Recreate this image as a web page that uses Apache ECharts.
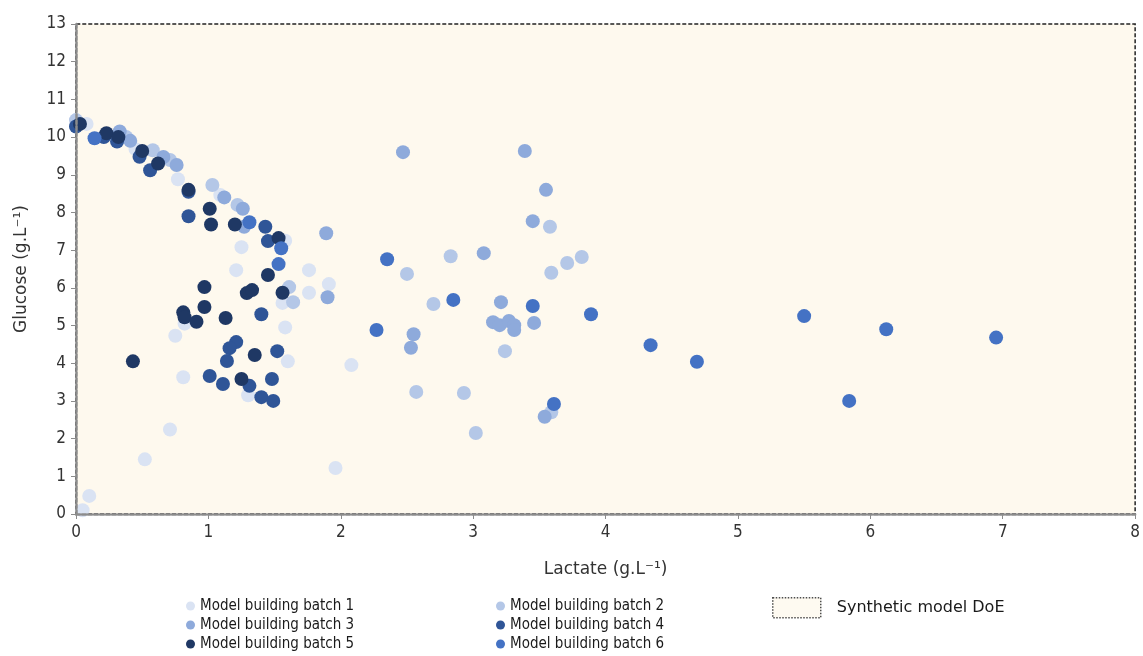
<!DOCTYPE html>
<html>
<head>
<meta charset="utf-8">
<script src="https://cdn.jsdelivr.net/npm/echarts@6/dist/echarts.min.js"></script>
<style>html,body{margin:0;padding:0;background:#fff;}#c{width:1143px;height:656px;}</style>
</head>
<body>
<div id="c"></div>
<script>
const batch1 = [[0.05,0.1],[0.1,0.48],[0.52,1.45],[0.71,2.24],[0.81,3.63],[0.75,4.73],[0.82,5.05],[1.3,3.15],[1.21,6.47],[1.25,7.08],[1.58,4.95],[1.6,4.05],[1.56,5.6],[1.76,6.47],[1.76,5.87],[1.91,6.1],[2.08,3.95],[1.96,1.22],[0.77,8.88],[0.08,10.35],[0.45,9.68],[1.09,8.46],[1.58,7.25]];
const batch2 = [[0.0,10.45],[0.38,10.0],[0.58,9.65],[0.71,9.39],[1.03,8.73],[1.22,8.2],[1.61,6.02],[1.64,5.62],[2.5,6.37],[2.83,6.84],[3.58,7.62],[3.71,6.66],[3.82,6.82],[3.59,6.4],[2.7,5.57],[3.24,4.32],[2.57,3.24],[2.93,3.21],[3.59,2.7],[3.02,2.15]];
const batch3 = [[0.33,10.15],[0.41,9.9],[0.66,9.47],[0.76,9.26],[1.12,8.4],[1.26,8.1],[1.27,7.62],[1.89,7.45],[1.9,5.75],[2.47,9.6],[3.39,9.63],[3.55,8.6],[3.45,7.77],[3.08,6.92],[3.21,5.62],[3.15,5.09],[3.2,5.01],[3.27,5.12],[3.31,5.01],[3.31,4.88],[3.46,5.07],[2.55,4.77],[2.53,4.41],[3.54,2.58]];
const batch4 = [[0.0,10.28],[0.21,10.0],[0.31,9.88],[0.48,9.48],[0.56,9.12],[0.85,8.55],[0.85,7.9],[1.43,7.62],[1.45,7.24],[1.40,5.3],[1.21,4.56],[1.16,4.4],[1.14,4.06],[1.52,4.32],[1.01,3.66],[1.11,3.45],[1.31,3.4],[1.48,3.58],[1.40,3.1],[1.49,3.0]];
const batch5 = [[0.03,10.35],[0.23,10.1],[0.32,10.0],[0.5,9.63],[0.62,9.3],[0.85,8.6],[1.01,8.1],[1.02,7.68],[1.2,7.68],[1.53,7.32],[1.45,6.34],[0.97,6.02],[1.29,5.86],[1.33,5.94],[1.56,5.87],[0.97,5.49],[0.81,5.35],[0.82,5.22],[0.91,5.1],[1.13,5.2],[0.43,4.05],[1.35,4.22],[1.25,3.58]];
const batch6 = [[0.14,9.97],[1.31,7.74],[1.55,7.05],[1.53,6.63],[2.35,6.76],[2.27,4.88],[2.85,5.68],[3.45,5.52],[3.89,5.3],[3.61,2.92],[4.34,4.48],[4.69,4.04],[5.5,5.25],[5.84,3.0],[6.12,4.9],[6.95,4.68]];
const doeLactate = [0, 8];
const doeGlucose = [0, 13];
const seriesNames = ['Model building batch 1','Model building batch 2','Model building batch 3','Model building batch 4','Model building batch 5','Model building batch 6'];
const doeName = 'Synthetic model DoE';
const xTitle = 'Lactate (g.L\u207B\u00B9)';
const yTitle = 'Glucose (g.L\u207B\u00B9)';

const colors = ['#dae3f3','#b4c7e7','#8eaadb','#2f5597','#1f3864','#4472c4'];
const allBatches = [batch1,batch2,batch3,batch4,batch5,batch6];
const FONT = 'DejaVu Sans Condensed, DejaVu Sans, sans-serif';
const FONT_W = 'DejaVu Sans, sans-serif';

const chart = echarts.init(document.getElementById('c'), null, {renderer:'canvas'});
const series = [{
  name: doeName,
  type: 'scatter',
  data: [],
  itemStyle: {color:'#fef9ee', borderColor:'#222', borderType:'dotted', borderWidth:1.5},
  markArea: {
    silent: true,
    itemStyle: {color:'#fef9ee', borderColor:'#222', borderType:[4,2], borderWidth:1.5},
    data: [[{coord:[doeLactate[0], doeGlucose[0]]},{coord:[doeLactate[1], doeGlucose[1]]}]]
  },
  z: 1
}];
allBatches.forEach((b,i)=>{
  series.push({
    name: seriesNames[i], type:'scatter', data: b, symbolSize: 14,
    itemStyle: {color: colors[i], opacity: 1}, z: 3 + i
  });
});

const legendText = {fontFamily: FONT, fontSize: 15, color:'#1a1a1a', lineHeight: 16};
chart.setOption({
  animation: false,
  grid: {left: 76, right: 6, top: 24, bottom: 142},
  xAxis: {
    type:'value', min: 0, max: 8, interval: 1, z: 10,
    name: xTitle, nameLocation:'middle', nameGap: 47,
    nameTextStyle: {fontFamily: FONT_W, fontSize: 17, color:'#333'},
    axisLine: {onZero:false, lineStyle:{color:'#8c8c8c', width:2.5, type:[4,2]}},
    axisTick: {show:true, length:5, lineStyle:{color:'#8c8c8c'}},
    axisLabel: {fontFamily: FONT, fontSize: 17, color:'#333', margin: 10},
    splitLine: {show:false}
  },
  yAxis: {
    type:'value', min: 0, max: 13, interval: 1, z: 10,
    name: yTitle, nameLocation:'middle', nameGap: 46,
    nameTextStyle: {fontFamily: FONT_W, fontSize: 17, color:'#333'},
    axisLine: {onZero:false, lineStyle:{color:'#8c8c8c', width:2.5, type:[4,2]}},
    axisTick: {show:true, length:5, lineStyle:{color:'#8c8c8c'}},
    axisLabel: {fontFamily: FONT, fontSize: 17, color:'#333', margin: 10},
    splitLine: {show:false}
  },
  legend: [
    {orient:'vertical', left: 186, top: 598, itemGap: 3, itemWidth: 9, itemHeight: 9, icon:'circle',
     data:[seriesNames[0],seriesNames[2],seriesNames[4]], textStyle: legendText, padding:0},
    {orient:'vertical', left: 496, top: 598, itemGap: 3, itemWidth: 9, itemHeight: 9, icon:'circle',
     data:[seriesNames[1],seriesNames[3],seriesNames[5]], textStyle: legendText, padding:0},
    {orient:'vertical', left: 772, top: 597, itemWidth: 48, itemHeight: 20, icon:'rect',
     data:[{name: doeName, itemStyle:{color:'#fef9ee', borderColor:'#222', borderType:'dotted', borderWidth:1.5}}],
     textStyle: {fontFamily: FONT_W, fontSize: 16, color:'#1a1a1a', padding:[0,0,0,11]}, padding:0}
  ],
  series: series
});
</script>
</body>
</html>
